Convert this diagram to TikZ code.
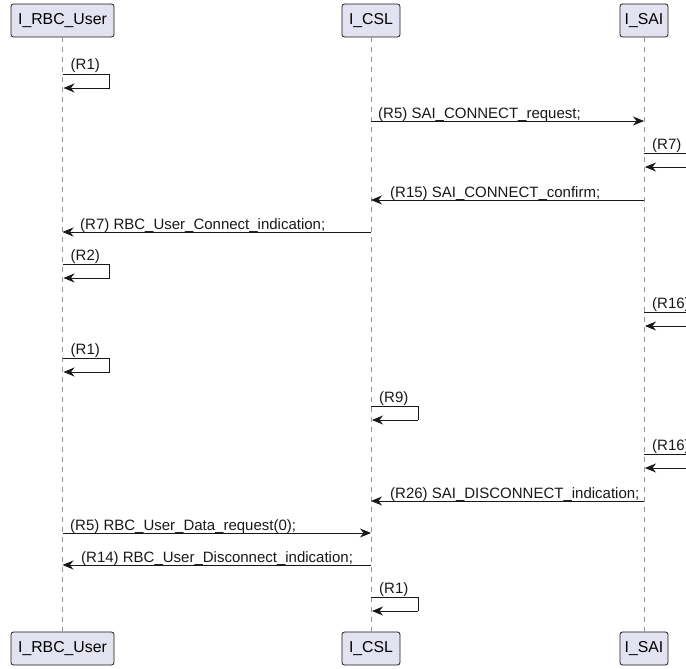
\documentclass[tikz,border=0pt]{standalone}
\usepackage{fontspec}
\setmainfont{Liberation Sans}
\usetikzlibrary{arrows.meta}
\definecolor{ink}{HTML}{181818}
\definecolor{partfill}{HTML}{E2E2F0}
\tikzset{
  part/.style={draw=ink, fill=partfill, rounded corners=2.5pt, line width=0.8pt,
    minimum height=33pt, inner sep=0pt, font=\fontsize{15.8}{18}\selectfont},
  life/.style={draw=ink!45, line width=0.8pt, dash pattern=on 5pt off 5pt},
  msg/.style={draw=ink, line width=0.9pt, -{Stealth[length=11pt,width=9pt,inset=3.5pt]}},
  seg/.style={draw=ink, line width=0.9pt},
  lbl/.style={anchor=base west, inner sep=0pt, font=\fontsize{15}{17}\selectfont, text=ink},
}
\newcommand{\selfmsg}[3]{% x of lifeline, y of top line, label
  \draw[seg] (#1,#2) -- (#1+47,#2) -- (#1+47,#2+14);
  \draw[msg] (#1+47,#2+14) -- (#1+1,#2+14);
  \node[lbl] at (#1+8,#2-4) {#3};
}
\begin{document}
\begin{tikzpicture}[x=1pt,y=-1pt]
\useasboundingbox (0,0) rectangle (686,669);
\clip (0,0) rectangle (686,669);
% participants
\node[part, minimum width=103pt] (ut) at (62.5,20.5) {I\_RBC\_User};
\node[part, minimum width=58pt]  (ct) at (371,20.5) {I\_CSL};
\node[part, minimum width=48pt]  (st) at (644,20.5) {I\_SAI};
\node[part, minimum width=103pt] (ub) at (62.5,648.5) {I\_RBC\_User};
\node[part, minimum width=58pt]  (cb) at (371,648.5) {I\_CSL};
\node[part, minimum width=48pt]  (sb) at (644,648.5) {I\_SAI};
% lifelines
\draw[life] (ut.south) -- (ub.north);
\draw[life] (ct.south) -- (cb.north);
\draw[life] (st.south) -- (sb.north);
% messages
\selfmsg{62.5}{74}{(R1)}
\draw[msg] (371,121) -- (644,121);
\node[lbl] at (378,118) {(R5) SAI\_CONNECT\_request;};
\selfmsg{644}{153}{(R7)}
\draw[msg] (644,200) -- (371,200);
\node[lbl] at (390,197) {(R15) SAI\_CONNECT\_confirm;};
\draw[msg] (371,232) -- (62.5,232);
\node[lbl] at (80,229) {(R7) RBC\_User\_Connect\_indication;};
\selfmsg{62.5}{264}{(R2)}
\selfmsg{644}{312}{(R16)}
\selfmsg{62.5}{358}{(R1)}
\selfmsg{371}{406}{(R9)}
\selfmsg{644}{454}{(R16)}
\draw[msg] (644,501) -- (371,501);
\node[lbl] at (390,498) {(R26) SAI\_DISCONNECT\_indication;};
\draw[msg] (62.5,533) -- (371,533);
\node[lbl] at (70,530) {(R5) RBC\_User\_Data\_request(0);};
\draw[msg] (371,565) -- (62.5,565);
\node[lbl] at (81,562) {(R14) RBC\_User\_Disconnect\_indication;};
\selfmsg{371}{597}{(R1)}
\end{tikzpicture}
\end{document}
